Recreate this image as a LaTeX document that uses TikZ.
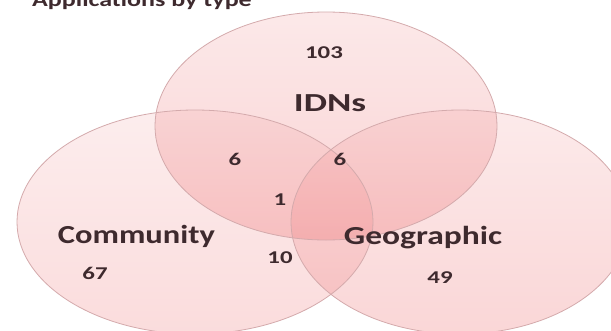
\documentclass[tikz,border=0pt]{standalone}
\usepackage{fontspec}
\setmainfont{Carlito}
\usepackage{graphicx}
\definecolor{vennfill}{RGB}{238,110,112}
\definecolor{vennline}{RGB}{212,170,172}
\definecolor{txtc}{RGB}{62,42,46}
\newcommand\sx[2]{\scalebox{#1}[1]{#2}}
\tikzset{
  venn/.style={top color=vennfill!50!white, bottom color=vennfill, shading angle=0},
  vennedge/.style={draw=vennline, line width=0.8pt},
  num/.style={font=\fontsize{18}{18}\selectfont\bfseries, text=txtc, anchor=base, inner sep=0pt},
  lbl/.style={font=\fontsize{26}{26}\selectfont\bfseries, text=txtc, anchor=base, inner sep=0pt},
}
\begin{document}
\begin{tikzpicture}[x=1pt,y=-1pt]
\useasboundingbox (0,0) rectangle (611,330);
\fill[white] (0,0) rectangle (611,330);
% ellipses
\shade[venn, opacity=0.24] (195,222) ellipse [x radius=178, y radius=112];
\shade[venn, opacity=0.28] (460,222) ellipse [x radius=169, y radius=112];
\shade[venn, opacity=0.30] (326,126) ellipse [x radius=171, y radius=114];
\draw[vennedge] (195,222) ellipse [x radius=178, y radius=112];
\draw[vennedge] (460,222) ellipse [x radius=169, y radius=112];
\draw[vennedge] (326,126) ellipse [x radius=171, y radius=114];
% title
\node[font=\fontsize{20}{20}\selectfont\bfseries, text=txtc, anchor=base west, inner sep=0pt] (title) at (32,6) {\sx{1.30}{Applications by type}};
% labels
\node[lbl] (idns) at (330,111) {\sx{1.42}{IDNs}};
\node[lbl] (comm) at (136.5,243) {\sx{1.25}{Community}};
\node[lbl] (geo) at (423,244) {\sx{1.29}{Geographic}};
% numbers
\node[num] (n103) at (324,58) {\sx{1.38}{103}};
\node[num] (n6a) at (235,165) {\sx{1.38}{6}};
\node[num] (n6b) at (340,165) {\sx{1.38}{6}};
\node[num] (n1) at (280,205) {\sx{1.38}{1}};
\node[num] (n10) at (280,263) {\sx{1.38}{10}};
\node[num] (n67) at (95,279) {\sx{1.38}{67}};
\node[num] (n49) at (440,283) {\sx{1.38}{49}};
\end{tikzpicture}
\end{document}
